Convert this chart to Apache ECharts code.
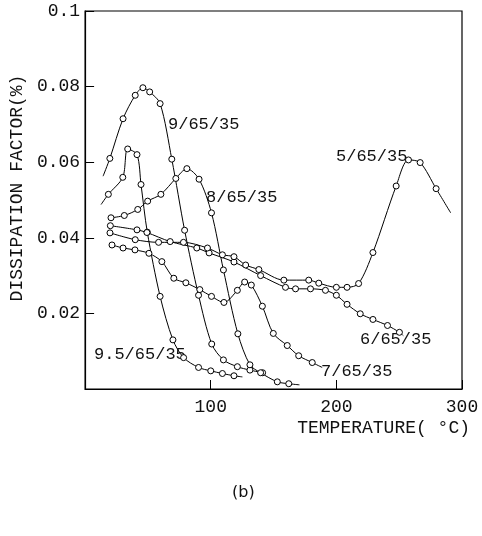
<!DOCTYPE html>
<html>
<head>
<meta charset="utf-8">
<script src="https://cdn.jsdelivr.net/npm/echarts@6/dist/echarts.min.js"></script>
<style>
  html, body { margin: 0; padding: 0; background: #fff; }
  #main { width: 482px; height: 536px; }
</style>
</head>
<body>
<div id="main"></div>
<script>
// temperature (°C) and dissipation factor (%)
var t95 = [12.7, 18.5, 30, 33.9, 41.3, 44.5, 49.5, 59.7, 69.9, 78.4, 90.3, 100, 109.3, 118.5, 125.2];
var v95 = [0.0488, 0.0515, 0.056, 0.0635, 0.062, 0.0541, 0.0415, 0.0245, 0.013, 0.0083, 0.0057, 0.0048, 0.0041, 0.0035, 0.0032];
var bare95 = [0, 14];

var t9 = [14.3, 19.7, 30.2, 39.9, 46, 51.4, 59.7, 69, 79.2, 90.3, 100.8, 110.1, 121.2, 131.2, 141.3];
var v9 = [0.0563, 0.061, 0.0715, 0.0777, 0.0797, 0.0786, 0.0755, 0.0608, 0.042, 0.0248, 0.0119, 0.0077, 0.0059, 0.005, 0.0043];
var bare9 = [0];

var t8 = [20.6, 31.2, 41.9, 49.8, 60.3, 72.2, 81, 90.7, 100.6, 110.1, 121.6, 131.2, 139.7, 153, 162.1, 170.6];
var v8 = [0.0453, 0.0459, 0.0475, 0.0497, 0.0515, 0.0557, 0.0583, 0.0555, 0.0466, 0.0315, 0.0146, 0.0064, 0.0043, 0.0019, 0.0014, 0.0011];
var bare8 = [15];

var t7 = [21.4, 30.2, 39.7, 50.8, 61.1, 70.6, 80.2, 91.3, 100.6, 110.5, 121.2, 127, 132.3, 141.1, 149.8, 160.9, 170, 180.8, 188.7];
var v7 = [0.0381, 0.0373, 0.0368, 0.0359, 0.0337, 0.0293, 0.0281, 0.0263, 0.0245, 0.0229, 0.0261, 0.0283, 0.0275, 0.0219, 0.0147, 0.0115, 0.0088, 0.007, 0.0057];
var bare7 = [18];

var t6 = [20.1, 41.3, 49.2, 67.7, 88.9, 98.7, 118.5, 139.7, 159.5, 167.5, 179.4, 191.3, 200, 208.5, 219, 229.1, 240.7, 250.2, 253.2];
var v6 = [0.0432, 0.0421, 0.0414, 0.039, 0.0373, 0.036, 0.0336, 0.03, 0.0269, 0.0265, 0.0265, 0.0261, 0.0248, 0.0224, 0.0199, 0.0184, 0.0168, 0.015, 0.0141];
var bare6 = [18];

var t5 = [19.8, 39.9, 58.5, 78.3, 97.4, 109.3, 118.5, 127.8, 138.3, 158.2, 178, 186, 200, 208.5, 217.7, 229.1, 247.6, 257.4, 266.7, 279.4, 291];
var v5 = [0.0413, 0.0395, 0.0388, 0.0388, 0.0373, 0.0355, 0.035, 0.0328, 0.0316, 0.0288, 0.0288, 0.028, 0.0269, 0.0269, 0.0279, 0.0361, 0.0537, 0.0606, 0.0599, 0.053, 0.0466];
var bare5 = [20];

var xTicks = [100, 200, 300];
var yTicks = [0.02, 0.04, 0.06, 0.08, 0.1];

var mono = '"Liberation Mono", "DejaVu Sans Mono", monospace';

function makeSeries(name, ts, vs, bare) {
    var data = [];
    for (var i = 0; i < ts.length; i++) {
        data.push({
            value: [ts[i], vs[i]],
            symbolSize: bare.indexOf(i) >= 0 ? 0 : 6
        });
    }
    return {
        name: name,
        type: 'line',
        smooth: 0.3,
        symbol: 'circle',
        showAllSymbol: true,
        lineStyle: { color: '#000', width: 1 },
        itemStyle: { color: '#fff', borderColor: '#000', borderWidth: 1 },
        emphasis: { disabled: true },
        data: data
    };
}

var myChart = echarts.init(document.getElementById('main'));
var option = {
    animation: false,
    backgroundColor: '#fff',
    grid: {
        left: 84,
        top: 11,
        width: 378,
        height: 378,
        show: true,
        borderColor: '#000',
        borderWidth: 1.2
    },
    xAxis: {
        type: 'value',
        min: 0,
        max: 300,
        interval: 100,
        name: 'TEMPERATURE( °C)',
        nameLocation: 'end',
        nameGap: 8,
        nameTextStyle: {
            fontFamily: mono, fontSize: 18, color: '#111',
            align: 'right', verticalAlign: 'top', padding: [30, 0, 0, 0]
        },
        axisLine: { lineStyle: { color: '#000', width: 1.2 } },
        axisTick: { inside: true, length: 9, lineStyle: { color: '#000' } },
        splitLine: { show: false },
        axisLabel: {
            fontFamily: mono, fontSize: 18, color: '#111', margin: 9,
            formatter: function (value) {
                return xTicks.indexOf(value) >= 0 ? String(value) : '';
            }
        }
    },
    yAxis: {
        type: 'value',
        min: 0,
        max: 0.1,
        interval: 0.02,
        name: 'DISSIPATION FACTOR(%)',
        nameLocation: 'middle',
        nameGap: 47,
        nameTextStyle: { fontFamily: mono, fontSize: 18, color: '#111', padding: [0, 0, 0, 24] },
        axisLine: { lineStyle: { color: '#000', width: 1.2 } },
        axisTick: { inside: true, length: 9, lineStyle: { color: '#000' } },
        splitLine: { show: false },
        axisLabel: {
            fontFamily: mono, fontSize: 18, color: '#111', margin: 5,
            formatter: function (value) {
                var v = +value.toFixed(2);
                return yTicks.indexOf(v) >= 0 ? String(v) : '';
            }
        }
    },
    series: [
        makeSeries('9.5/65/35', t95, v95, bare95),
        makeSeries('9/65/35', t9, v9, bare9),
        makeSeries('8/65/35', t8, v8, bare8),
        makeSeries('7/65/35', t7, v7, bare7),
        makeSeries('6/65/35', t6, v6, bare6),
        makeSeries('5/65/35', t5, v5, bare5)
    ],
    graphic: [
        { type: 'text', left: 168, top: 116, style: { text: '9/65/35', font: '17px ' + mono, fill: '#111' } },
        { type: 'text', left: 206, top: 189, style: { text: '8/65/35', font: '17px ' + mono, fill: '#111' } },
        { type: 'text', left: 336, top: 148, style: { text: '5/65/35', font: '17px ' + mono, fill: '#111' } },
        { type: 'text', left: 360, top: 331, style: { text: '6/65/35', font: '17px ' + mono, fill: '#111' } },
        { type: 'text', left: 321, top: 363, style: { text: '7/65/35', font: '17px ' + mono, fill: '#111' } },
        { type: 'text', left: 94, top: 346, style: { text: '9.5/65/35', font: '17px ' + mono, fill: '#111' } },
        { type: 'text', left: 232, top: 485, style: { text: '(b)', font: '16px "DejaVu Sans", sans-serif', fill: '#111' } }
    ]
};
myChart.setOption(option);
</script>
</body>
</html>
